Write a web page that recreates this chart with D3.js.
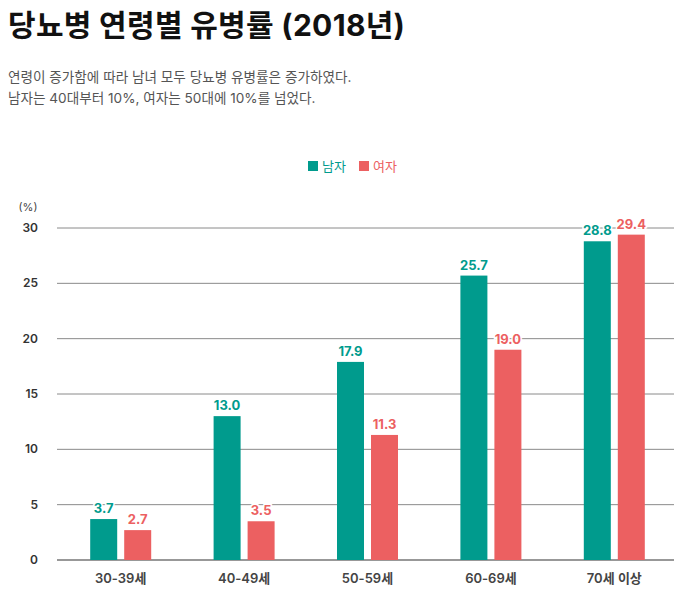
<!DOCTYPE html>
<html><head><meta charset="utf-8">
<script src="https://cdn.jsdelivr.net/npm/d3@7"></script>
<style>
body{margin:0;background:#fff;font-family:"Noto Sans CJK KR","Noto Sans",sans-serif;}
</style></head>
<body><svg id="c" width="688" height="601"></svg>
<script>
const categories = ["30-39세","40-49세","50-59세","60-69세","70세 이상"];
const series = ["남자","여자"];
const male = [3.7, 13.0, 17.9, 25.7, 28.8];
const female = [2.7, 3.5, 11.3, 19.0, 29.4];
const yTicks = [0,5,10,15,20,25,30];
const colors = ["#009b8d","#ec6061"];

const svg = d3.select("#c");
const font = 'Inter,"Noto Sans CJK KR",sans-serif';

svg.append("text").attr("x",8).attr("y",36).attr("font-size",30).attr("font-weight",700)
  .attr("fill","#111").attr("font-family",font).attr("letter-spacing",0.3).text("당뇨병 연령별 유병률 (2018년)");
svg.append("text").attr("x",8).attr("y",82).attr("font-size",13.6).attr("fill","#555").attr("font-weight",400)
  .attr("font-family",font).text("연령이 증가함에 따라 남녀 모두 당뇨병 유병률은 증가하였다.");
svg.append("text").attr("x",8).attr("y",103).attr("font-size",13.6).attr("fill","#555").attr("font-weight",400)
  .attr("font-family",font).text("남자는 40대부터 10%, 여자는 50대에 10%를 넘었다.");

const pL=59, pR=676, pT=228, pB=560;
const x = d3.scaleBand().domain(categories).range([pL,pR]);
const y = d3.scaleLinear().domain([0,30]).range([pB,pT]);
const barW = 27, gap = 7;

// grid
const g = svg.append("g");
g.selectAll("line.grid").data(yTicks.filter(d=>d>0)).join("line")
  .attr("x1",57).attr("x2",674).attr("y1",d=>y(d)).attr("y2",d=>y(d))
  .attr("stroke","#8a8a8a").attr("stroke-width",1);
g.append("line").attr("x1",57).attr("x2",674).attr("y1",y(0)).attr("y2",y(0))
  .attr("stroke","#333").attr("stroke-width",1.2);

// y labels
g.selectAll("text.yt").data(yTicks).join("text")
  .attr("x",38).attr("y",d=>y(d)+4).attr("text-anchor","end").attr("font-size",12)
  .attr("font-weight",600).attr("fill","#333").attr("font-family",font).text(d=>d);
svg.append("text").attr("x",28).attr("y",211).attr("text-anchor","middle").attr("font-size",11)
  .attr("fill","#444").attr("font-family",font).text("(%)");

// x labels
g.selectAll("text.xt").data(categories).join("text")
  .attr("x",d=>x(d)+x.bandwidth()/2).attr("y",583).attr("text-anchor","middle")
  .attr("font-size",13).attr("font-weight",600).attr("fill","#444").attr("font-family",font).text(d=>d);

const data = [male, female];
data.forEach((vals,si)=>{
  const off = si===0 ? -gap/2-barW : gap/2;
  const items = categories.map((c,i)=>({c, v:vals[i]}));
  svg.append("g").selectAll("rect").data(items).join("rect")
    .attr("x",d=>x(d.c)+x.bandwidth()/2+off).attr("width",barW)
    .attr("y",d=>y(d.v)).attr("height",d=>y(0)-y(d.v)).attr("fill",colors[si]);
  svg.append("g").selectAll("text").data(items).join("text")
    .attr("x",d=>x(d.c)+x.bandwidth()/2+off+barW/2).attr("y",d=>y(d.v)-6)
    .attr("text-anchor","middle").attr("font-size",13).attr("font-weight",700)
    .attr("fill",colors[si]).attr("stroke","#fff").attr("stroke-width",3)
    .attr("paint-order","stroke").attr("font-family",font).text(d=>d.v.toFixed(1));
});

// legend
const lg = svg.append("g");
const lx = [308, 359];
series.forEach((s,i)=>{
  lg.append("rect").attr("x",lx[i]).attr("y",161).attr("width",10).attr("height",10).attr("fill",colors[i]);
  lg.append("text").attr("x",lx[i]+14).attr("y",171).attr("font-size",13).attr("fill",colors[i])
    .attr("font-family",font).text(s);
});
</script></body></html>
